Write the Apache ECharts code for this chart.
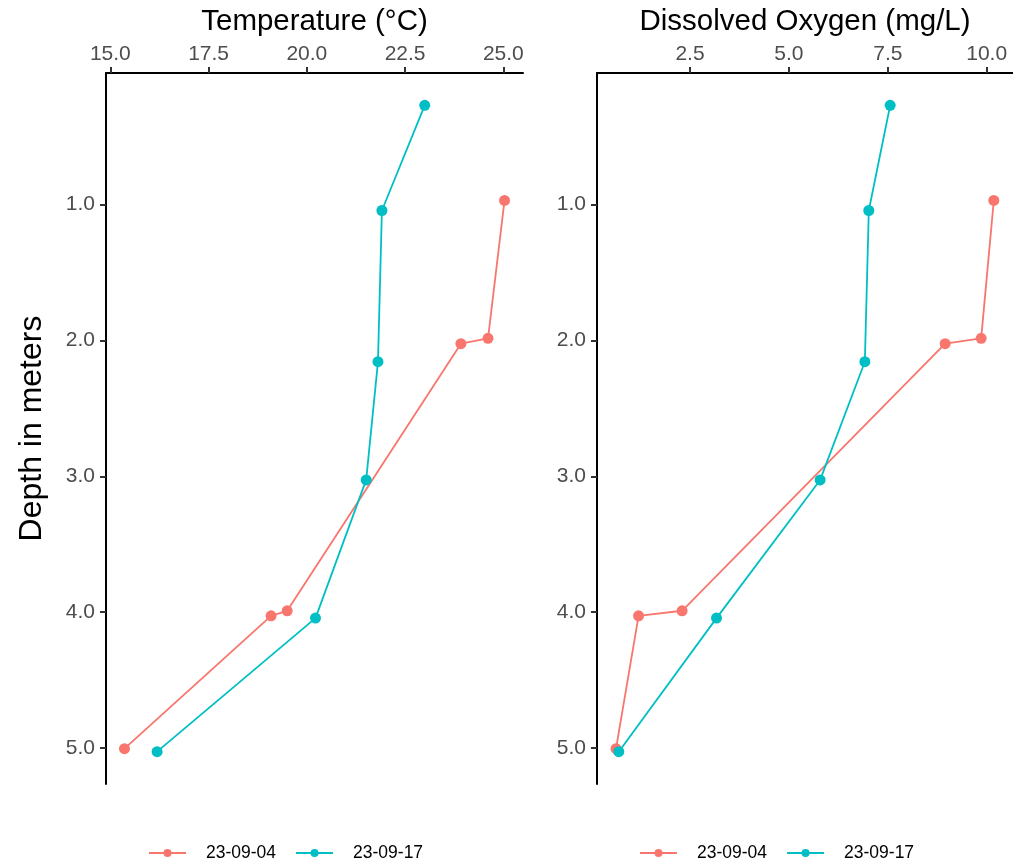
<!DOCTYPE html>
<html>
<head>
<meta charset="utf-8">
<script src="https://cdn.jsdelivr.net/npm/echarts@6/dist/echarts.min.js"></script>
<style>html,body{margin:0;padding:0;background:#fff}#c{width:1013px;height:867px}</style>
</head>
<body>
<div id="c"></div>
<script>
// Data
const seriesNames = ['23-09-04', '23-09-17'];
const depth0904 = [0.97, 1.985, 2.024, 3.99, 4.027, 5.005];
const temp0904  = [25.03, 24.61, 23.92, 19.50, 19.09, 15.36];
const do0904    = [10.18, 9.86, 8.95, 2.30, 1.20, 0.63];
const depth0917 = [0.27, 1.044, 2.157, 3.027, 4.044, 5.027];
const temp0917  = [23.00, 21.91, 21.81, 21.51, 20.22, 16.19];
const do0917    = [7.56, 7.02, 6.92, 5.79, 3.17, 0.70];
const tempTicks  = [15, 17.5, 20, 22.5, 25];
const doTicks    = [2.5, 5, 7.5, 10];
const depthTicks = [1, 2, 3, 4, 5];

const colors = ['#F8766D', '#00BFC4'];
const FONT = 'Liberation Sans, Arial, sans-serif';
const pair = (xs, ys) => xs.map((x, i) => [x, ys[i]]);
const fmt = v => Number(v).toFixed(1);

const xAxisCommon = (ticks, min, max, name, gridIndex) => ({
  type: 'value', position: 'top', gridIndex, min, max,
  name, nameLocation: 'middle', nameGap: 36,
  nameTextStyle: { fontFamily: FONT, fontSize: 29.5, color: '#000' },
  axisLine: { show: true, lineStyle: { color: '#000', width: 2 } },
  axisTick: { show: true, inside: false, length: 6, customValues: ticks, lineStyle: { color: '#333', width: 2 } },
  axisLabel: { customValues: ticks, formatter: fmt, fontFamily: FONT, fontSize: 21, color: '#4D4D4D', margin: 8 },
  splitLine: { show: false }
});
const yAxisCommon = (gridIndex, name) => ({
  type: 'value', inverse: true, gridIndex, min: 0.032, max: 5.265,
  name, nameLocation: 'middle', nameGap: 58, nameRotate: 90,
  nameTextStyle: { fontFamily: FONT, fontSize: 32, color: '#000' },
  axisLine: { show: true, onZero: false, lineStyle: { color: '#000', width: 2 } },
  axisTick: { show: true, inside: false, length: 6, customValues: depthTicks, lineStyle: { color: '#333', width: 2 } },
  axisLabel: { customValues: depthTicks, formatter: fmt, fontFamily: FONT, fontSize: 21, color: '#4D4D4D', margin: 11 },
  splitLine: { show: false }
});
const lineSeries = (name, data, idx, color) => ({
  type: 'line', name, data, xAxisIndex: idx, yAxisIndex: idx,
  symbol: 'circle', symbolSize: 11, showSymbol: true,
  lineStyle: { color, width: 1.8 }, itemStyle: { color },
  animation: false
});
const legendCommon = left => ({
  data: seriesNames, left, top: 839, orient: 'horizontal',
  itemWidth: 37, itemHeight: 10, itemGap: 19,
  lineStyle: { width: 2 },
  textStyle: { fontFamily: FONT, fontSize: 17.5, color: '#000', padding: [0, 0, 0, 15] }
});

const option = {
  backgroundColor: '#fff',
  animation: false,
  grid: [
    { left: 106, top: 73, width: 417, height: 711 },
    { left: 597, top: 73, width: 416, height: 711 }
  ],
  xAxis: [
    xAxisCommon(tempTicks, 14.89, 25.5, 'Temperature (°C)', 0),
    xAxisCommon(doTicks, 0.149, 10.665, 'Dissolved Oxygen (mg/L)', 1)
  ],
  yAxis: [ yAxisCommon(0, 'Depth in meters'), yAxisCommon(1, '') ],
  legend: [ legendCommon(143), legendCommon(634) ],
  series: [
    lineSeries(seriesNames[0], pair(temp0904, depth0904), 0, colors[0]),
    lineSeries(seriesNames[1], pair(temp0917, depth0917), 0, colors[1]),
    lineSeries(seriesNames[0], pair(do0904, depth0904), 1, colors[0]),
    lineSeries(seriesNames[1], pair(do0917, depth0917), 1, colors[1])
  ]
};
const chart = echarts.init(document.getElementById('c'), null, { renderer: 'canvas' });
chart.setOption(option);
</script>
</body>
</html>
